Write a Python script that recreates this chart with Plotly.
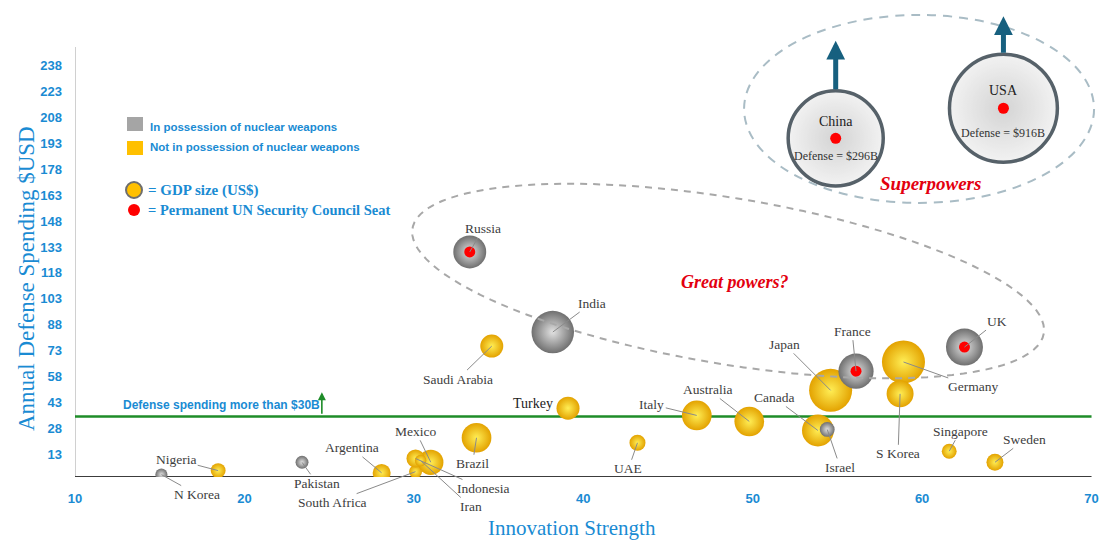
import numpy as np
import plotly.graph_objects as go

# ---------------- data ----------------
countries = ["N Korea", "Nigeria", "Pakistan", "Argentina", "South Africa", "Mexico",
             "Indonesia", "Iran", "Brazil", "Saudi Arabia", "India", "Russia", "Turkey",
             "UAE", "Italy", "Australia", "Canada", "Israel", "Japan", "France",
             "Germany", "S Korea", "UK", "Singapore", "Sweden"]
innovation = [15.1, 18.45, 23.4, 28.1, 30.1, 31.0, 30.1, 30.4, 33.7, 34.6, 38.2, 33.3, 39.1,
              43.2, 46.7, 49.8, 53.85, 54.4, 54.6, 56.1, 58.9, 58.7, 62.5, 61.6, 64.3]
defense = [1.4, 3.7, 8.5, 2.4, 3.1, 8.5, 10.7, 9.5, 22.7, 75.7, 83.8, 130.1, 39.8,
           19.8, 35.6, 32.1, 26.9, 27.5, 50.1, 61.2, 66.5, 48.1, 75.1, 14.9, 8.5]
gdp = [0.33, 0.5, 0.38, 0.73, 0.38, 1.45, 0.75, 0.3, 2.0, 1.2, 4.1, 2.45, 1.2,
       0.58, 2.0, 2.0, 2.3, 0.5, 4.2, 2.8, 4.2, 1.65, 3.1, 0.5, 0.65]
nuclear = [True, False, True, False, False, False, False, False, False, False, True, True, False,
           False, False, False, False, True, False, True, False, False, True, False, False]
un_seat = [False, False, False, False, False, False, False, False, False, False, False, True, False,
           False, False, False, False, False, False, True, False, False, True, False, False]

super_names = ["China", "USA"]
super_innovation = [54.9, 64.8]
super_defense_pos = [195.8, 213.2]
super_gdp = [20.5, 26.4]
super_defense_text = ["Defense = $296B", "Defense = $916B"]

threshold = 35
x_ticks = [10, 20, 30, 40, 50, 60, 70]
y_ticks = [13, 28, 43, 58, 73, 88, 103, 118, 133, 148, 163, 178, 193, 208, 223, 238]

# ---------------- layout geometry / styles ----------------
W, H = 1101, 542
ML, MR, MT, MB = 75, 1, 10, 65
XR = [10, 70.5]
YR = [0, 270]
PXX = (W - ML - MR) / (XR[1] - XR[0])
PXY = (H - MT - MB) / (YR[1] - YR[0])

BLUE = "#1a8bd3"
RED = "#e3000f"
LABEL = "#3d3d3d"
SERIF = "Liberation Serif, Times New Roman, serif"
SANS = "Liberation Sans, Arial, sans-serif"


def pxx(px):  # pixel -> paper x
    return (px - ML) / (W - ML - MR)


def pxy(py):  # pixel -> paper y
    return (H - MB - py) / (H - MT - MB)


# label offsets in pixels (text centre relative to bubble)
label_offsets = {
    "N Korea": (36, 20), "Nigeria": (-42, -11), "Pakistan": (15, 21), "Argentina": (-30, -25),
    "South Africa": (-83, 31), "Mexico": (-15, -31), "Indonesia": (67, 30), "Iran": (50, 46),
    "Brazil": (-4, 26), "Saudi Arabia": (-34, 33), "India": (39, -29), "Russia": (13, -23),
    "UAE": (-9, 26), "Italy": (-45, -11), "Australia": (-41, -32), "Canada": (-44, -33),
    "Israel": (13, 38), "Japan": (-46, -46), "France": (-4, -40), "Germany": (70, 25),
    "S Korea": (-2, 60), "UK": (33, -26), "Singapore": (11, -20), "Sweden": (30, -23),
}

fig = go.Figure()

SIZEREF = 2 / 441.0  # diameter = 21*sqrt(gdp)

idx_y = [i for i in range(len(countries)) if not nuclear[i]]
idx_g = [i for i in range(len(countries)) if nuclear[i]]

fig.add_trace(go.Scatter(
    x=[innovation[i] for i in idx_y], y=[defense[i] for i in idx_y],
    mode="markers", hoverinfo="text", text=[countries[i] for i in idx_y],
    marker=dict(size=[gdp[i] for i in idx_y], sizemode="area", sizeref=SIZEREF,
                color="#e3a200", gradient=dict(type="radial", color="#ffee55"),
                line=dict(width=0), opacity=1),
    showlegend=False))

fig.add_trace(go.Scatter(
    x=[innovation[i] for i in idx_g], y=[defense[i] for i in idx_g],
    mode="markers", hoverinfo="text", text=[countries[i] for i in idx_g],
    marker=dict(size=[gdp[i] for i in idx_g], sizemode="area", sizeref=SIZEREF,
                color="#6f6f6f", gradient=dict(type="radial", color="#e2e2e2"),
                line=dict(width=0), opacity=1),
    showlegend=False))

# superpowers
fig.add_trace(go.Scatter(
    x=super_innovation, y=super_defense_pos, mode="markers", hoverinfo="text", text=super_names,
    marker=dict(size=super_gdp, sizemode="area", sizeref=SIZEREF,
                color="#ededed", gradient=dict(type="radial", color="#c2c2c2"),
                line=dict(width=3.5, color="#0f1f2a")),
    showlegend=False))

# UN seat dots
ux = [innovation[i] for i in range(len(countries)) if un_seat[i]] + super_innovation
uy = [defense[i] for i in range(len(countries)) if un_seat[i]] + super_defense_pos
fig.add_trace(go.Scatter(x=ux, y=uy, mode="markers", hoverinfo="skip",
                         marker=dict(size=11, color="#ff0000", line=dict(width=0)),
                         showlegend=False))

annotations = []
for i, name in enumerate(countries):
    if name == "Turkey":
        annotations.append(dict(x=innovation[i], y=defense[i], xref="x", yref="y", text=name,
                                showarrow=False, xshift=-35, yshift=5,
                                xanchor="center", yanchor="middle",
                                font=dict(family=SERIF, size=14, color="#222222")))
        continue
    ax, ay = label_offsets[name]
    annotations.append(dict(x=innovation[i], y=defense[i], xref="x", yref="y", text=name,
                            showarrow=True, arrowhead=0, arrowwidth=1, arrowcolor="#8a8a8a",
                            ax=ax, ay=ay, standoff=0,
                            font=dict(family=SERIF, size=13.5, color=LABEL)))

for i, name in enumerate(super_names):
    annotations.append(dict(x=super_innovation[i], y=super_defense_pos[i], xref="x", yref="y",
                            text=name, showarrow=False, yshift=17 if i == 0 else 18,
                            xanchor="center", yanchor="middle",
                            font=dict(family=SERIF, size=14, color="#222222")))
    annotations.append(dict(x=super_innovation[i], y=super_defense_pos[i], xref="x", yref="y",
                            text=super_defense_text[i], showarrow=False,
                            yshift=-18 if i == 0 else -25,
                            xanchor="center", yanchor="middle",
                            font=dict(family=SERIF, size=12, color="#333333")))
    r = 21 * np.sqrt(super_gdp[i]) / 2
    length = 50 if i == 0 else 38
    tip_y = super_defense_pos[i] + (r + length) / PXY
    annotations.append(dict(x=super_innovation[i], y=tip_y, xref="x", yref="y", text="",
                            showarrow=True, arrowhead=2, arrowsize=0.75, arrowwidth=5,
                            arrowcolor="#17607f", ax=0, ay=length, standoff=0))

# threshold arrow + label
annotations.append(dict(x=24.57, y=threshold + 14, xref="x", yref="y", text="",
                        showarrow=True, arrowhead=2, arrowsize=1, arrowwidth=1.6,
                        arrowcolor="#1e8c28", ax=0, ay=23, standoff=0))
annotations.append(dict(x=pxx(121), y=pxy(405), xref="paper", yref="paper", xanchor="left",
                        yanchor="middle", text="Defense spending more than $30B", showarrow=False,
                        font=dict(family=SANS, size=12, color=BLUE, weight="bold")))

# region titles
annotations.append(dict(x=pxx(735), y=pxy(282), xref="paper", yref="paper",
                        xanchor="center", yanchor="middle",
                        text="<b><i>Great powers?</i></b>", showarrow=False,
                        font=dict(family=SERIF, size=18, color=RED)))
annotations.append(dict(x=pxx(930), y=pxy(183), xref="paper", yref="paper",
                        xanchor="center", yanchor="middle",
                        text="<b><i>Superpowers</i></b>", showarrow=False,
                        font=dict(family=SERIF, size=19, color=RED)))

# legend texts
annotations += [
    dict(x=pxx(148), y=pxy(127), xref="paper", yref="paper", xanchor="left", yanchor="middle",
         text="In possession of nuclear weapons", showarrow=False,
         font=dict(family=SANS, size=11.5, color=BLUE, weight="bold")),
    dict(x=pxx(148), y=pxy(147), xref="paper", yref="paper", xanchor="left", yanchor="middle",
         text="Not in possession of nuclear weapons", showarrow=False,
         font=dict(family=SANS, size=11.5, color=BLUE, weight="bold")),
    dict(x=pxx(146), y=pxy(190), xref="paper", yref="paper", xanchor="left", yanchor="middle",
         text="= GDP size (US$)", showarrow=False,
         font=dict(family=SERIF, size=15, color=BLUE, weight="bold")),
    dict(x=pxx(146), y=pxy(210), xref="paper", yref="paper", xanchor="left", yanchor="middle",
         text="= Permanent UN Security Council Seat", showarrow=False,
         font=dict(family=SERIF, size=14.5, color=BLUE, weight="bold")),
]

# axis titles
annotations.append(dict(x=pxx(26), y=pxy(279), xref="paper", yref="paper", textangle=-90,
                        xanchor="center", yanchor="middle",
                        text="Annual Defense Spending $USD", showarrow=False,
                        font=dict(family=SERIF, size=23, color=BLUE)))
annotations.append(dict(x=pxx(572), y=pxy(528), xref="paper", yref="paper",
                        xanchor="center", yanchor="middle",
                        text="Innovation Strength", showarrow=False,
                        font=dict(family=SERIF, size=21, color=BLUE)))

# ---------------- shapes ----------------
shapes = []
# left axis line
shapes.append(dict(type="line", xref="x", yref="y", x0=10, x1=10, y0=0,
                   y1=13 + (454.5 - 47) / PXY, line=dict(color="#c0c0c0", width=1.5), layer="below"))
# baseline
shapes.append(dict(type="line", xref="x", yref="y", x0=10, x1=70, y0=0, y1=0,
                   line=dict(color="#3c3c3c", width=2), layer="below"))
# threshold
shapes.append(dict(type="line", xref="x", yref="y", x0=10, x1=70, y0=threshold, y1=threshold,
                   line=dict(color="#1e8c28", width=2.5), layer="below"))

# great powers ellipse (rotated)
gp_cx, gp_cy = 48.55, 113.3
gp_a, gp_b, gp_theta = 320, 83, np.deg2rad(9.45)
t = np.linspace(0, 2 * np.pi, 120)
dx = gp_a * np.cos(t) * np.cos(gp_theta) - gp_b * np.sin(t) * np.sin(gp_theta)
dy = gp_a * np.cos(t) * np.sin(gp_theta) + gp_b * np.sin(t) * np.cos(gp_theta)
ex = gp_cx + dx / PXX
ey = gp_cy - dy / PXY
path = "M " + " L ".join(f"{a:.4f},{b:.4f}" for a, b in zip(ex, ey)) + " Z"
shapes.append(dict(type="path", xref="x", yref="y", path=path,
                   line=dict(color="#a8a8a8", width=2, dash="7px,6px")))

# superpowers ellipse
sp_cx, sp_cy, sp_rx, sp_ry = 59.82, 212.8, 175 / PXX, 94 / PXY
shapes.append(dict(type="circle", xref="x", yref="y", x0=sp_cx - sp_rx, x1=sp_cx + sp_rx,
                   y0=sp_cy - sp_ry, y1=sp_cy + sp_ry,
                   line=dict(color="#a9bcc5", width=2, dash="9px,7px")))

# legend symbols
shapes.append(dict(type="rect", xref="paper", yref="paper", x0=pxx(127), x1=pxx(143),
                   y0=pxy(131), y1=pxy(117), fillcolor="#a5a5a5", line=dict(width=0)))
shapes.append(dict(type="rect", xref="paper", yref="paper", x0=pxx(127), x1=pxx(143),
                   y0=pxy(155), y1=pxy(141), fillcolor="#ffc000", line=dict(width=0)))
shapes.append(dict(type="circle", xref="paper", yref="paper", x0=pxx(126), x1=pxx(142),
                   y0=pxy(198), y1=pxy(182), fillcolor="#ffc000", line=dict(color="#6e6e6e", width=2)))
shapes.append(dict(type="circle", xref="paper", yref="paper", x0=pxx(128), x1=pxx(140),
                   y0=pxy(216), y1=pxy(204), fillcolor="#ff0000", line=dict(width=0)))

fig.update_layout(
    width=W, height=H, margin=dict(l=ML, r=MR, t=MT, b=MB),
    paper_bgcolor="white", plot_bgcolor="white",
    xaxis=dict(range=XR, tickvals=x_ticks, showgrid=False, zeroline=False, showline=False,
               ticks="", ticklabelstandoff=12,
               tickfont=dict(family=SANS, size=13, color=BLUE, weight="bold")),
    yaxis=dict(range=YR, tickvals=y_ticks, showgrid=False, zeroline=False, showline=False,
               ticks="", ticklabelstandoff=12,
               tickfont=dict(family=SANS, size=13, color=BLUE, weight="bold")),
    annotations=annotations, shapes=shapes, showlegend=False,
)

fig.write_html("out.html")
